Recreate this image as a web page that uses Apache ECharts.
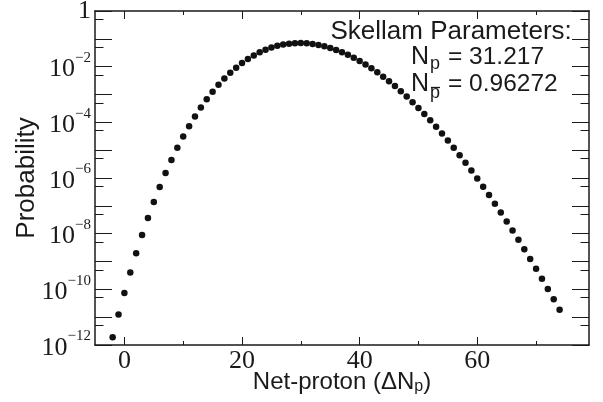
<!DOCTYPE html>
<html>
<head>
<meta charset="utf-8">
<script src="https://cdn.jsdelivr.net/npm/echarts@6/dist/echarts.min.js"></script>
<style>html,body{margin:0;padding:0;background:#fff}#c{width:603px;height:402px}</style>
</head>
<body>
<div id="c"></div>
<script>
// Net-proton number (x) for each plotted point
const netProton = [-2, -1, 0, 1, 2, 3, 4, 5, 6, 7, 8, 9, 10, 11, 12, 13, 14, 15, 16, 17, 18, 19,
  20, 21, 22, 23, 24, 25, 26, 27, 28, 29, 30, 31, 32, 33, 34, 35, 36, 37, 38, 39,
  40, 41, 42, 43, 44, 45, 46, 47, 48, 49, 50, 51, 52, 53, 54, 55, 56, 57, 58, 59,
  60, 61, 62, 63, 64, 65, 66, 67, 68, 69, 70, 71, 72, 73, 74];
// Probability for each net-proton value
const probability = [1.899e-12, 1.247e-11, 7.451e-11, 4.045e-10, 1.996e-9, 8.970e-9, 3.678e-8, 1.380e-7,
  4.757e-7, 1.511e-6, 4.439e-6, 1.211e-5, 3.076e-5, 7.305e-5, 1.627e-4, 3.409e-4, 6.735e-4, 1.259e-3,
  2.230e-3, 3.753e-3, 6.016e-3, 9.205e-3, 1.346e-2, 1.885e-2, 2.531e-2, 3.267e-2, 4.054e-2, 4.847e-2,
  5.589e-2, 6.223e-2, 6.698e-2, 6.976e-2, 7.038e-2, 6.884e-2, 6.535e-2, 6.024e-2, 5.398e-2, 4.706e-2,
  3.991e-2, 3.299e-2, 2.657e-2, 2.087e-2, 1.600e-2, 1.198e-2, 8.758e-3, 6.260e-3, 4.376e-3, 2.993e-3,
  2.004e-3, 1.313e-3, 8.435e-4, 5.310e-4, 3.278e-4, 1.984e-4, 1.178e-4, 6.868e-5, 3.930e-5, 2.210e-5,
  1.220e-5, 6.624e-6, 3.534e-6, 1.854e-6, 9.570e-7, 4.859e-7, 2.428e-7, 1.194e-7, 5.784e-8, 2.758e-8,
  1.296e-8, 5.999e-9, 2.737e-9, 1.230e-9, 5.455e-10, 2.384e-10, 1.028e-10, 4.372e-11, 1.834e-11];
// Axis ticks / labels
const xMajorTicks = [0, 20, 40, 60];
const xMinorTicks = [10, 30, 50, 70];
const yMinExp = -12, yMaxExp = 0;          // decades 1e-12 .. 1
const yHalfDecadeFactor = 5;                // short ticks at 5 x 10^n

const FRAME = '#1a1a1a';
const serif = '"Liberation Serif", "Times New Roman", serif';
const sans = '"Liberation Sans", Arial, Helvetica, sans-serif';

const halfTicks = [];
for (let n = yMinExp; n < yMaxExp; n++) halfTicks.push(Math.log10(yHalfDecadeFactor * Math.pow(10, n)));

function xAxisDef(pos, ticks, len, showLine, main) {
  const a = {
    type: 'value', min: -5, max: 79, position: pos,
    axisLine: {show: showLine, onZero: false, lineStyle: {color: FRAME, width: 1.5}},
    axisTick: {show: true, inside: true, length: len, customValues: ticks, lineStyle: {color: FRAME, width: 1}},
    axisLabel: {show: false},
    splitLine: {show: false}
  };
  if (main) {
    a.axisLabel = {show: true, customValues: xMajorTicks, margin: 3, color: FRAME,
      fontFamily: serif, fontSize: 26, lineHeight: 26};
    a.name = '{a|Net-proton (\u0394N}{s|p}{a|)}';
    a.nameLocation = 'middle';
    a.nameGap = 24;
    a.nameMoveOverlap = false;
    a.nameTextStyle = {rich: {
      a: {fontFamily: sans, fontSize: 24, lineHeight: 26, color: FRAME},
      s: {fontFamily: sans, fontSize: 16, lineHeight: 12, verticalAlign: 'bottom', color: FRAME}
    }};
  }
  return a;
}

function yExpAxis(pos, ticksCustom, len, showLine, main) {
  const a = {
    type: 'value', min: yMinExp, max: yMaxExp, interval: 1, position: pos,
    axisLine: {show: showLine, onZero: false, lineStyle: {color: FRAME, width: 1.5}},
    axisTick: {show: true, inside: true, length: len, lineStyle: {color: FRAME, width: 1}},
    axisLabel: {show: false},
    splitLine: {show: false}
  };
  if (ticksCustom) a.axisTick.customValues = ticksCustom;
  if (main) {
    a.axisLabel = {
      show: true, margin: 4, color: FRAME,
      formatter: function (v) {
        const e = Math.round(v);
        if (e % 2 !== 0) return '';
        if (e === 0) return '{one|1}';
        return '{b|10}{s|\u2212' + (-e) + '}';
      },
      rich: {
        one: {fontFamily: serif, fontSize: 26, lineHeight: 26, color: FRAME},
        b: {fontFamily: serif, fontSize: 26, lineHeight: 26, verticalAlign: 'bottom', color: FRAME},
        s: {fontFamily: serif, fontSize: 15, lineHeight: 32, verticalAlign: 'top', color: FRAME}
      }
    };
    a.name = 'Probability';
    a.nameLocation = 'middle';
    a.nameGap = 55;
    a.nameMoveOverlap = false;
    a.nameTextStyle = {fontFamily: sans, fontSize: 26, color: FRAME};
  }
  return a;
}

const chart = echarts.init(document.getElementById('c'), null, {renderer: 'canvas'});
chart.setOption({
  backgroundColor: '#ffffff',
  animation: false,
  grid: {left: 95, right: 14, top: 11, bottom: 57, containLabel: false, outerBoundsMode: 'none'},
  xAxis: [
    xAxisDef('bottom', xMajorTicks, 8, true, true),
    xAxisDef('bottom', xMinorTicks, 4, false, false),
    xAxisDef('top', xMajorTicks, 8, true, false),
    xAxisDef('top', xMinorTicks, 4, false, false)
  ],
  yAxis: [
    {type: 'log', logBase: 10, min: 1e-12, max: 1, show: false, position: 'left'},
    yExpAxis('left', null, 17, true, true),
    yExpAxis('left', halfTicks, 8.5, false, false),
    yExpAxis('right', null, 17, true, false),
    yExpAxis('right', halfTicks, 8.5, false, false)
  ],
  series: [{
    type: 'scatter',
    xAxisIndex: 0, yAxisIndex: 0,
    symbol: 'circle', symbolSize: 6.5,
    itemStyle: {color: '#111111', opacity: 1},
    data: netProton.map((k, i) => [k, probability[i]])
  }],
  graphic: [
    {type: 'text', x: 330.5, y: 31.7, z: 10, style: {text: 'Skellam Parameters:', font: '26px ' + sans, fill: FRAME, verticalAlign: 'middle'}},
    {type: 'text', x: 411, y: 57.5, z: 10, style: {text: 'N', font: '25px ' + sans, fill: FRAME, verticalAlign: 'middle'}},
    {type: 'text', x: 430, y: 64, z: 10, style: {text: 'p', font: '18px ' + sans, fill: FRAME, verticalAlign: 'middle'}},
    {type: 'text', x: 448, y: 57.5, z: 10, style: {text: '= 31.217', font: '24.5px ' + sans, fill: FRAME, verticalAlign: 'middle'}},
    {type: 'text', x: 411, y: 84.2, z: 10, style: {text: 'N', font: '25px ' + sans, fill: FRAME, verticalAlign: 'middle'}},
    {type: 'text', x: 430, y: 93.5, z: 10, style: {text: 'p', font: '18px ' + sans, fill: FRAME, verticalAlign: 'middle'}},
    {type: 'line', z: 10, shape: {x1: 431, y1: 87.5, x2: 440, y2: 87.5}, style: {stroke: FRAME, lineWidth: 1.3}},
    {type: 'text', x: 448, y: 84.2, z: 10, style: {text: '= 0.96272', font: '24.5px ' + sans, fill: FRAME, verticalAlign: 'middle'}}
  ]
});
</script>
</body>
</html>
